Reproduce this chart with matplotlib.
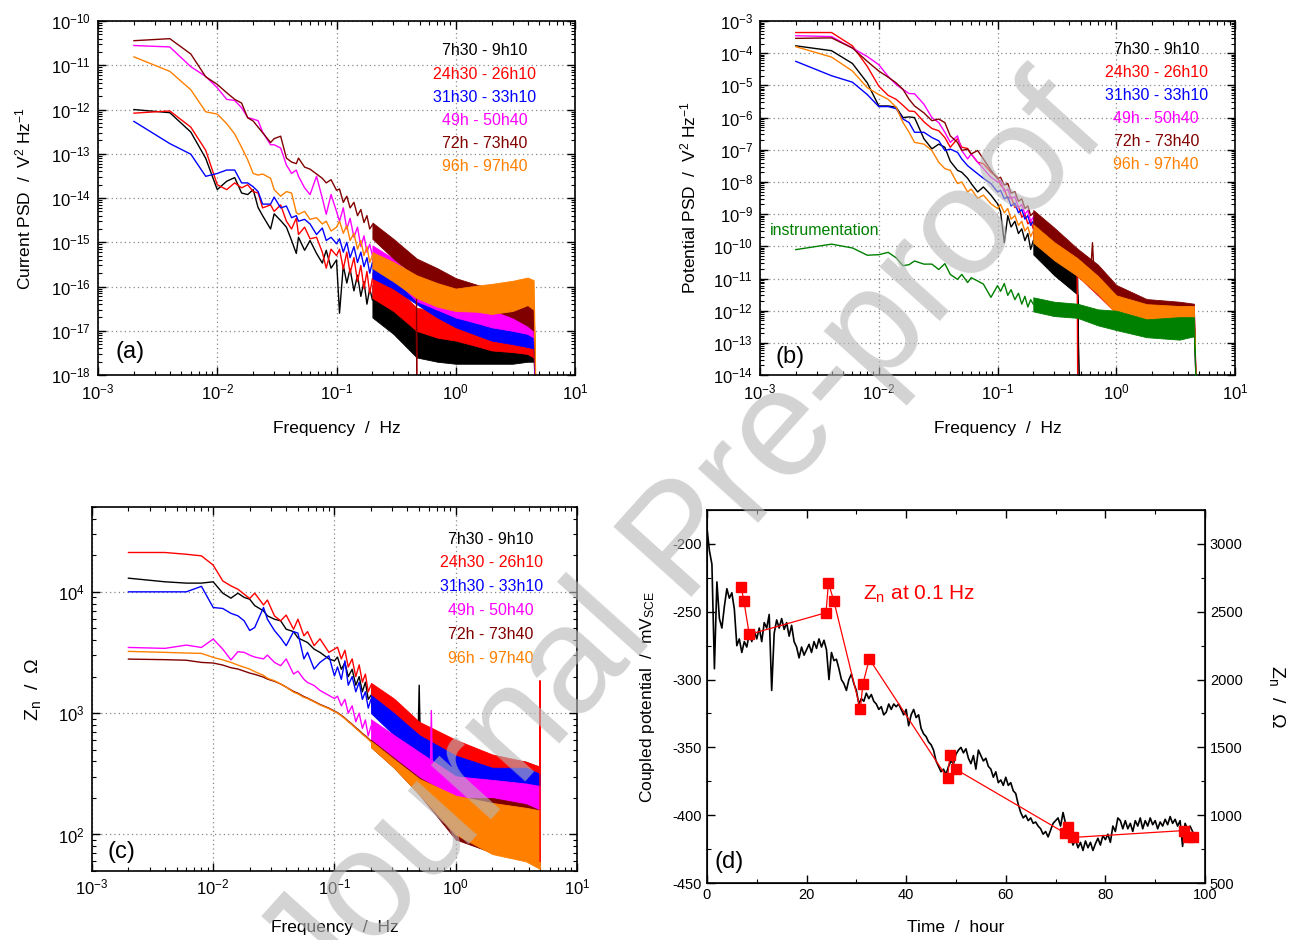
import numpy as np
import matplotlib
matplotlib.use('Agg')
import matplotlib.pyplot as plt
from matplotlib.ticker import LogLocator, NullFormatter, MultipleLocator

plt.rcParams['font.family'] = ['Liberation Sans', 'DejaVu Sans']
plt.rcParams['mathtext.default'] = 'regular'
plt.rcParams['axes.unicode_minus'] = False

LABELS = ['7h30 - 9h10', '24h30 - 26h10', '31h30 - 33h10', '49h - 50h40', '72h - 73h40', '96h - 97h40']
COLORS = ['#000000', '#ff0000', '#0000ff', '#ff00ff', '#800000', '#ff8000']
GREEN = '#008000'

# ---------------- panel (a): current PSD ----------------
F_A_LINE = [0.002, 0.004, 0.006, 0.008, 0.010, 0.012, 0.014, 0.016, 0.018, 0.020, 0.022, 0.024, 0.028,
            0.030, 0.034, 0.038, 0.042, 0.046, 0.048, 0.054, 0.060, 0.068, 0.076, 0.082, 0.090, 0.100,
            0.106, 0.114, 0.122, 0.130, 0.140, 0.150, 0.160, 0.170, 0.180, 0.190, 0.200]
A_LINE = [
    [1.0e-12, 8.5e-13, 3.1e-13, 7.9e-14, 1.55e-14, 2.4e-14, 2.9e-14, 1.3e-14, 1.2e-14, 1.55e-14, 6.1e-15, 4e-15, 2e-15,
     4.4e-15, 3.1e-15, 2.2e-15, 1.1e-15, 5.6e-16, 1.3e-15, 6.6e-16, 1.1e-15, 5.6e-16, 3.4e-16, 6.6e-16, 2.6e-16, 4e-16,
     2.5e-17, 3e-16, 1.2e-16, 2.5e-16, 8e-17, 1.8e-16, 6e-17, 1.3e-16, 4e-17, 9e-17, 5e-17],
    [8.3e-13, 9.3e-13, 4.0e-13, 1.2e-13, 2e-14, 1.55e-14, 2.2e-14, 1.7e-14, 2e-14, 1.4e-14, 1.3e-14, 6e-15, 7e-15,
     5e-15, 7e-15, 3e-15, 2e-15, 3.5e-15, 1.5e-15, 2.2e-15, 1.2e-15, 1.3e-15, 6e-16, 2.6e-16, 7e-16, 5e-16,
     7e-16, 2.5e-16, 6e-16, 2e-16, 4.5e-16, 1.3e-16, 3e-16, 9e-17, 2.2e-16, 7e-17, 1.5e-16],
    [5.4e-13, 1.7e-13, 9.8e-14, 3.1e-14, 3.6e-14, 4.3e-14, 4.3e-14, 2.2e-14, 2.2e-14, 1.8e-14, 1.4e-14, 7.3e-15, 7.3e-15,
     1.05e-14, 6e-15, 6.6e-15, 3.6e-15, 4e-15, 3e-15, 3.3e-15, 2.6e-15, 1.5e-15, 2.1e-15, 1.1e-15, 1.3e-15, 9.3e-16,
     1.2e-15, 6e-16, 1e-15, 4.5e-16, 8e-16, 3.5e-16, 6e-16, 2.8e-16, 4.5e-16, 2e-16, 3.5e-16],
    [2.8e-11, 2.6e-11, 9.3e-12, 5.6e-12, 3.1e-12, 1.7e-12, 1.6e-12, 1.1e-12, 6.6e-13, 6.1e-13, 5.6e-13, 3.1e-13, 1.6e-13,
     1.6e-13, 1.35e-13, 5.6e-14, 3.6e-14, 4.3e-14, 3.1e-14, 1.7e-14, 1.2e-14, 3.1e-14, 1.0e-14, 4.3e-15, 1.2e-14, 5e-15,
     3e-15, 6e-15, 2e-15, 3.5e-15, 1.3e-15, 2.2e-15, 8e-16, 1.4e-15, 6e-16, 9e-16, 5e-16],
    [3.6e-11, 4.0e-11, 1.8e-11, 5.5e-12, 3.7e-12, 2.4e-12, 1.7e-12, 1.4e-12, 6.5e-13, 5.5e-13, 4e-13, 3.0e-13, 1.8e-13,
     2.2e-13, 2.5e-13, 8e-14, 6.5e-14, 6e-14, 8e-14, 5e-14, 4.5e-14, 3.5e-14, 2.8e-14, 2.2e-14, 2.6e-14, 1.5e-14,
     1.6e-14, 8e-15, 1.1e-14, 6e-15, 8e-15, 4e-15, 5.5e-15, 2.8e-15, 4e-15, 2e-15, 2.5e-15],
    [1.55e-11, 7.3e-12, 2.8e-12, 8.9e-13, 7.9e-13, 4.8e-13, 2.8e-13, 1.4e-13, 7.3e-14, 3.6e-14, 3.3e-14, 3.5e-14, 2.8e-14,
     1.55e-14, 1.1e-14, 1.4e-14, 1.3e-14, 4.7e-15, 4.3e-15, 5e-15, 3.3e-15, 3.6e-15, 2.6e-15, 3e-15, 1.8e-15, 2.2e-15,
     3e-15, 1.6e-15, 2.4e-15, 1.1e-15, 1.6e-15, 7e-16, 1.1e-15, 5e-16, 8e-16, 3.5e-16, 5e-16],
]
F_A_BAND = [0.2, 0.3, 0.47, 0.7, 1.0, 1.5, 2.0, 3.0, 4.0, 4.5, 4.8]
A_LO = [
    [2e-17, 8.5e-18, 2.5e-18, 2e-18, 1.8e-18, 1.8e-18, 1.8e-18, 1.8e-18, 2e-18, 2e-18, 1e-20],
    [5.5e-17, 2.8e-17, 1e-17, 7e-18, 6e-18, 4.5e-18, 3.6e-18, 3.3e-18, 3e-18, 2.5e-18, 1e-20],
    [1.55e-16, 9e-17, 4e-17, 2e-17, 1.2e-17, 8e-18, 6e-18, 5e-18, 4.3e-18, 4e-18, 1e-20],
    [3.6e-16, 1.55e-16, 4.7e-17, 3e-17, 2e-17, 1.5e-17, 1.2e-17, 1e-17, 8.5e-18, 7e-18, 1e-20],
    [1.2e-15, 4.3e-16, 1.6e-16, 9e-17, 5.5e-17, 3.5e-17, 3e-17, 2e-17, 1.3e-17, 1e-17, 1e-20],
    [2.6e-16, 1.3e-16, 5.5e-17, 3.5e-17, 2.8e-17, 2.7e-17, 2.4e-17, 2.8e-17, 3.8e-17, 3e-17, 1e-20],
]
A_HI = [
    [1.1e-16, 4.7e-17, 2e-17, 1e-17, 8.5e-18, 8e-18, 7e-18, 7e-18, 7e-18, 6e-18, 1e-20],
    [2.1e-16, 1.1e-16, 3.3e-17, 2.8e-17, 2.3e-17, 1.8e-17, 1.4e-17, 1.3e-17, 1.2e-17, 1e-17, 1e-20],
    [4.3e-16, 2.1e-16, 1.1e-16, 5e-17, 3.3e-17, 2.5e-17, 2e-17, 1.8e-17, 1.7e-17, 1.5e-17, 1e-20],
    [8.5e-16, 4.3e-16, 1.3e-16, 8e-17, 5.5e-17, 4e-17, 3.3e-17, 3.3e-17, 3.3e-17, 3e-17, 1e-20],
    [2.8e-15, 1.2e-15, 4.3e-16, 2.6e-16, 1.55e-16, 1.1e-16, 9e-17, 7e-17, 6e-17, 5e-17, 1e-20],
    [6e-16, 3.6e-16, 1.8e-16, 1.2e-16, 9e-17, 1.05e-16, 1.15e-16, 1.35e-16, 1.6e-16, 1.4e-16, 1e-20],
]
DROP_A_F = [0.468, 0.475]
DROP_A_RED = [3e-17, 1e-20]
DROP_A_BROWN = [1.2e-16, 1e-20]

# ---------------- panel (b): potential PSD ----------------
F_B_LINE = [0.002, 0.004, 0.006, 0.008, 0.010, 0.012, 0.014, 0.016, 0.018, 0.020, 0.024, 0.028, 0.032,
            0.036, 0.040, 0.046, 0.050, 0.056, 0.060, 0.068, 0.076, 0.088, 0.100,
            0.106, 0.114, 0.122, 0.130, 0.140, 0.150, 0.160, 0.170, 0.180, 0.190, 0.200]
B_LINE = [
    [1.7e-4, 1.2e-4, 4.8e-5, 1.2e-5, 2.3e-6, 2.3e-6, 2.1e-6, 1e-6, 1.05e-6, 1e-6, 2.2e-7, 1.07e-7, 1.5e-7,
     1.2e-7, 4.4e-8, 2.3e-8, 2e-8, 1.3e-8, 8.9e-9, 4.9e-9, 7e-9, 3.9e-9, 2.1e-9,
     1.2e-9, 1.3e-10, 9e-10, 4e-10, 6e-10, 2.5e-10, 3.5e-10, 1.5e-10, 2.5e-10, 8e-11, 1.5e-10],
    [4.4e-4, 4.4e-4, 1.7e-4, 3.9e-5, 9.5e-6, 4.9e-6, 3.7e-6, 2.4e-6, 1.6e-6, 1.55e-6, 7.4e-7, 4.6e-7, 3.9e-7,
     2.4e-7, 1.2e-7, 2.2e-7, 1.2e-7, 1.1e-7, 7.4e-8, 4.1e-8, 3.7e-8, 2e-8, 1.4e-8,
     8e-9, 6e-9, 3e-9, 3.5e-9, 1.6e-9, 1.8e-9, 8e-10, 1e-9, 5e-10, 6e-10, 3.5e-10],
    [5.6e-5, 2.0e-5, 1.26e-5, 5.2e-6, 2.2e-6, 2.2e-6, 1.9e-6, 9e-7, 7e-7, 3.5e-7, 3.5e-7, 2.4e-7, 1.9e-7,
     9.5e-8, 1.05e-7, 8.3e-8, 5.2e-8, 3.2e-8, 2.6e-8, 1.8e-8, 1.3e-8, 8.9e-9, 4.9e-9,
     5.5e-9, 3e-9, 3.5e-9, 1.8e-9, 2.2e-9, 1.1e-9, 1.4e-9, 7e-10, 9e-10, 4.5e-10, 6e-10],
    [3.5e-4, 3.3e-4, 1.45e-4, 7.9e-5, 4.4e-5, 1.9e-5, 1.07e-5, 7.5e-6, 5.6e-6, 5.5e-6, 2.6e-6, 1.0e-6, 7e-7,
     3.5e-7, 1.7e-7, 2.7e-7, 9.5e-8, 5.2e-8, 7.4e-8, 4.1e-8, 2.6e-8, 1.4e-8, 1e-8,
     1.1e-8, 5e-9, 6e-9, 3e-9, 3.5e-9, 1.6e-9, 2e-9, 1e-9, 1.3e-9, 6e-10, 8e-10],
    [2.9e-4, 3.0e-4, 1.45e-4, 5.6e-5, 2.8e-5, 1.8e-5, 1.2e-5, 7.5e-6, 3.7e-6, 2.3e-6, 1.4e-6, 8e-7, 9e-7,
     7e-7, 2.7e-7, 1.7e-7, 9.5e-8, 1.05e-7, 7.4e-8, 9.5e-8, 5.2e-8, 2.3e-8, 1.26e-8,
     1.4e-8, 8e-9, 9e-9, 4.5e-9, 5e-9, 2.5e-9, 3e-9, 1.5e-9, 1.8e-9, 9e-10, 1.1e-9],
    [1.6e-4, 7.6e-5, 2.8e-5, 8.5e-6, 5.2e-6, 3.7e-6, 2.1e-6, 7e-7, 3.5e-7, 1.7e-7, 1.5e-7, 9.5e-8, 4.1e-8,
     2.6e-8, 2.3e-8, 8.9e-9, 1e-8, 4.9e-9, 6e-9, 3.1e-9, 3.9e-9, 2.1e-9, 1.5e-9,
     2e-9, 1.1e-9, 1.5e-9, 7e-10, 9e-10, 4.5e-10, 6e-10, 3e-10, 4e-10, 2e-10, 3e-10],
]
B_INSTR_LINE = [7.9e-11, 1.17e-10, 8.9e-11, 5.3e-11, 5.5e-11, 6.5e-11, 4.4e-11, 2.5e-11, 2.7e-11, 3.5e-11, 2.8e-11,
                2.8e-11, 1.9e-11, 2.9e-11, 1.34e-11, 9.4e-12, 1.34e-11, 7.5e-12, 1.06e-11, 8.4e-12, 6.7e-12, 2.6e-12,
                6e-12, 4e-12, 7e-12, 3e-12, 4.5e-12, 2.2e-12, 3.5e-12, 1.6e-12, 2.8e-12, 1.3e-12, 2.2e-12, 1.6e-12]

F_B_BAND = [0.2, 0.3, 0.47, 0.7, 1.0, 1.8, 3.4, 4.5, 4.8]
F_B_BAND_BLACK = [0.2, 0.3, 0.47, 0.49]
B_LO = [
    [5.6e-11, 1.26e-11, 3.2e-12, 1e-16],
    [1.9e-10, 5.2e-11, 1.2e-11, 3e-12, 8.3e-13, 2.8e-13, 1.6e-13, 1.6e-13, 1e-16],
    [2.3e-10, 5.9e-11, 1.3e-11, 3.3e-12, 1e-12, 3.5e-13, 2e-13, 2e-13, 1e-16],
    [3e-10, 8.3e-11, 1.9e-11, 5.2e-12, 1.8e-12, 7.6e-13, 6e-13, 5.4e-13, 1e-16],
    [3.7e-10, 1.05e-10, 2.3e-11, 7.4e-12, 2e-12, 8.5e-13, 6.8e-13, 6e-13, 1e-16],
    [1.3e-10, 3.7e-11, 1.2e-11, 3.3e-12, 8.3e-13, 5e-13, 4.5e-13, 4.5e-13, 1e-16],
]
B_HI = [
    [2.2e-10, 5e-11, 1.26e-11, 1e-16],
    [6.8e-10, 1.9e-10, 4.3e-11, 1.07e-11, 3e-12, 1.1e-12, 7.9e-13, 7.9e-13, 1e-16],
    [8.5e-10, 2.1e-10, 4.8e-11, 1.2e-11, 3.2e-12, 1.1e-12, 7.9e-13, 7.9e-13, 1e-16],
    [1.07e-9, 3e-10, 6.8e-11, 1.9e-11, 5.6e-12, 2.1e-12, 1.65e-12, 1.5e-12, 1e-16],
    [1.35e-9, 3.8e-10, 8.5e-11, 2.7e-11, 6.3e-12, 2.3e-12, 1.9e-12, 1.65e-12, 1e-16],
    [4.8e-10, 1.35e-10, 4.3e-11, 1.2e-11, 3e-12, 1.6e-12, 1.4e-12, 1.4e-12, 1e-16],
]
B_INSTR_LO = [9.5e-13, 6.8e-13, 6e-13, 3.5e-13, 2.5e-13, 1.5e-13, 1.26e-13, 1.6e-13, 1e-16]
B_INSTR_HI = [2.6e-12, 1.9e-12, 1.65e-12, 1.1e-12, 1e-12, 5.4e-13, 6.3e-13, 6.3e-13, 1e-16]
SPIKE_B_BROWN_F = [0.615, 0.63, 0.645]
SPIKE_B_BROWN = [3e-11, 1.3e-10, 2.5e-11]
DROP_B_F = [0.468, 0.476]
DROP_B_RED = [2e-11, 1e-16]

# ---------------- panel (c): noise impedance ----------------
F_C_LINE = [0.002, 0.004, 0.006, 0.008, 0.010, 0.012, 0.014, 0.016, 0.018, 0.020, 0.022, 0.026, 0.028,
            0.032, 0.036, 0.040, 0.046, 0.050, 0.056, 0.060, 0.068, 0.076, 0.090, 0.100,
            0.106, 0.114, 0.122, 0.130, 0.140, 0.150, 0.160, 0.170, 0.180, 0.190, 0.200]
C_LINE = [
    [12960, 12100, 11800, 11800, 12100, 9750, 8870, 9750, 9000, 8700, 7700, 6970, 6340,
     5950, 5770, 4920, 4700, 4170, 3950, 3820, 3370, 3170, 2800, 2700,
     2900, 2300, 2600, 2000, 2300, 1700, 2000, 1500, 1800, 1300, 1400],
    [21100, 21100, 20400, 19800, 16600, 12300, 11200, 10500, 9570, 8810, 9750, 7800, 8560,
     6340, 5770, 6430, 4920, 5950, 4340, 4700, 3600, 4100, 3170, 3370,
     3500, 2800, 3300, 2400, 2800, 2000, 2500, 1800, 2100, 1500, 1700],
    [10000, 10000, 10000, 11100, 7430, 7290, 6650, 6340, 5770, 4800, 5080, 7430, 5950,
     4800, 4170, 3600, 4700, 4570, 2800, 3170, 2310, 2620, 2970, 2030,
     2400, 1900, 2700, 1700, 2000, 1500, 1800, 1300, 1500, 1100, 1300],
    [3480, 3420, 3640, 3480, 4080, 3370, 2750, 3210, 3170, 3010, 2900, 2800, 3010,
     2620, 2460, 2800, 2100, 2220, 1900, 1790, 1690, 1540, 1400, 1320,
     1380, 1150, 1300, 1000, 1150, 850, 1000, 750, 880, 650, 780],
    [2790, 2760, 2730, 2620, 2590, 2490, 2370, 2310, 2220, 2140, 2090, 1980, 1910,
     1830, 1740, 1640, 1510, 1460, 1370, 1330, 1250, 1180, 1100, 1040,
     1010, 960, 910, 860, 810, 760, 720, 680, 650, 620, 590],
    [3230, 3170, 3130, 3110, 2880, 2750, 2620, 2490, 2390, 2310, 2200, 2050, 1940,
     1850, 1740, 1640, 1490, 1440, 1350, 1320, 1240, 1170, 1090, 1030,
     1000, 950, 900, 850, 800, 750, 710, 670, 640, 610, 580],
]
F_C_BAND = [0.2, 0.31, 0.5, 1.0, 2.0, 3.8, 4.95]
C_LO = [
    [1120, 760, 500, 316, 263, 240, 240],
    [1200, 794, 525, 331, 263, 240, 240],
    [1000, 660, 417, 251, 214, 200, 200],
    [603, 417, 282, 190, 166, 158, 158],
    [525, 355, 214, 91, 71, 63, 56],
    [525, 355, 214, 100, 69, 60, 52],
]
C_HI = [
    [1580, 1200, 794, 562, 437, 398, 355],
    [1780, 1320, 850, 603, 457, 398, 363],
    [1410, 1000, 660, 447, 355, 355, 316],
    [891, 660, 479, 302, 282, 263, 251],
    [603, 427, 295, 200, 200, 178, 158],
    [589, 417, 288, 209, 182, 166, 158],
]
SPIKE_C_BLACK_F = [0.49, 0.50, 0.51]
SPIKE_C_BLACK = [650, 1700, 650]
SPIKE_C_MAG_F = [0.62, 0.63, 0.64]
SPIKE_C_MAG = [380, 1050, 380]
SPIKE_C_RED_F = [4.93, 4.95, 4.97]
SPIKE_C_RED = [320, 1850, 60]

# ---------------- panel (d): coupled potential and Zn(0.1 Hz) ----------------
T_D = np.arange(0, 98.0, 0.5)
E_D = [-188, -205, -215, -292, -228, -255, -262, -246, -233, -240, -236, -248, -275, -270, -280, -272,
       -276, -266, -272, -264, -270, -262, -272, -258, -262, -252, -308, -266, -256, -262, -255, -263,
       -258, -268, -260, -272, -276, -284, -276, -282, -278, -274, -280, -272, -277, -270, -276, -271,
       -278, -300, -280, -286, -285, -292, -300, -303, -308, -300, -296, -303, -308, -318, -314, -316,
       -310, -314, -311, -316, -318, -322, -320, -326, -324, -318, -322, -318, -320, -318, -322, -326,
       -322, -334, -326, -322, -328, -326, -336, -340, -342, -346, -348, -352, -360, -364, -368, -366,
       -370, -364, -360, -362, -355, -352, -350, -354, -351, -358, -362, -356, -366, -352, -356, -360,
       -358, -364, -366, -372, -368, -376, -374, -378, -372, -378, -376, -382, -384, -392, -398, -402,
       -400, -404, -402, -406, -405, -408, -410, -414, -412, -416, -411, -406, -404, -402, -408, -398,
       -406, -410, -416, -422, -418, -424, -420, -426, -419, -424, -420, -426, -421, -417, -422, -415,
       -418, -414, -420, -408, -412, -402, -404, -410, -404, -410, -406, -412, -404, -408, -402, -410,
       -404, -408, -402, -407, -404, -410, -405, -408, -403, -407, -401, -406, -403, -408, -404, -423,
       -406, -410, -408, -412]
T_ZN = [6.9, 7.4, 8.5, 23.9, 24.4, 25.5, 30.8, 31.3, 32.6, 48.3, 48.8, 50.0, 71.9, 72.4, 73.4, 95.8, 96.5, 97.6]
ZN = [2679, 2583, 2333, 2493, 2713, 2576, 1782, 1966, 2152, 1272, 1444, 1338, 868, 912, 836, 887, 843, 838]

# ---------------- figure ----------------
fig = plt.figure(figsize=(12.95, 9.40), dpi=100)
axa = fig.add_axes([0.0757, 0.601, 0.3683, 0.3766])
axb = fig.add_axes([0.5869, 0.601, 0.3668, 0.3766])
axc = fig.add_axes([0.0710, 0.0734, 0.3745, 0.3872])
axd = fig.add_axes([0.5459, 0.0606, 0.3846, 0.3968])

TICK_FS = 12
LAB_FS = 12.5
LEG_FS = 11.5


def style_log(ax, ylim):
    ax.set_xscale('log')
    ax.set_yscale('log')
    ax.set_xlim(1e-3, 10)
    ax.set_ylim(*ylim)
    for axis in (ax.xaxis, ax.yaxis):
        axis.set_major_locator(LogLocator(base=10, numticks=30))
        axis.set_minor_locator(LogLocator(base=10, subs=np.arange(2, 10), numticks=30))
        axis.set_minor_formatter(NullFormatter())
    ax.tick_params(which='both', direction='in', top=True, right=True)
    ax.tick_params(which='major', length=6, width=1.0, labelsize=TICK_FS, pad=5)
    ax.tick_params(which='minor', length=3, width=0.8)
    ax.grid(True, which='major', linestyle=(0, (1, 2.5)), color='#888888', linewidth=0.9)
    for s in ax.spines.values():
        s.set_linewidth(1.2)


def draw_spectra(ax, f_line, lines, f_band, lows, highs, colors):
    for i, c in enumerate(colors):
        z = 2 + i * 0.1
        ax.plot(f_line, lines[i], color=c, lw=1.0, zorder=z)
        fb = f_band[i] if isinstance(f_band[0], list) else f_band
        ax.fill_between(fb, lows[i], highs[i], color=c, lw=0.6, zorder=z)


def legend_texts(ax, x, y0, dy):
    for i, (lab, c) in enumerate(zip(LABELS, COLORS)):
        ax.text(x, y0 - i * dy, lab, transform=ax.transAxes, ha='center', va='center',
                color=c, fontsize=LEG_FS, zorder=10)


# (a)
style_log(axa, (1e-18, 1e-10))
draw_spectra(axa, F_A_LINE, A_LINE, F_A_BAND, A_LO, A_HI, COLORS)
axa.plot(DROP_A_F, DROP_A_RED, color=COLORS[1], lw=1.0, zorder=2.15)
axa.plot(DROP_A_F, DROP_A_BROWN, color=COLORS[4], lw=1.0, zorder=2.45)
legend_texts(axa, 0.811, 0.916, 0.0656)
axa.text(0.067, 0.064, '(a)', transform=axa.transAxes, ha='center', va='center', fontsize=17, zorder=10)
axa.set_xlabel('Frequency  /  Hz', fontsize=LAB_FS)
axa.set_ylabel('Current PSD  /  V$^2$ Hz$^{-1}$', fontsize=LAB_FS)
axa.xaxis.set_label_coords(0.5, -0.13)
axa.yaxis.set_label_coords(-0.135, 0.5)

# (b)
style_log(axb, (1e-14, 1e-3))
bands_b = [F_B_BAND_BLACK] + [F_B_BAND] * 5
draw_spectra(axb, F_B_LINE, B_LINE, bands_b, B_LO, B_HI, COLORS)
axb.plot(DROP_B_F, DROP_B_RED, color=COLORS[1], lw=1.0, zorder=2.15)
axb.plot(SPIKE_B_BROWN_F, SPIKE_B_BROWN, color=COLORS[4], lw=1.0, zorder=2.45)
axb.plot(F_B_LINE, B_INSTR_LINE, color=GREEN, lw=1.0, zorder=3)
axb.fill_between(F_B_BAND, B_INSTR_LO, B_INSTR_HI, color=GREEN, lw=0.6, zorder=3)
legend_texts(axb, 0.834, 0.919, 0.065)
axb.text(0.021, 0.409, 'instrumentation', transform=axb.transAxes, ha='left', va='center',
         color=GREEN, fontsize=LEG_FS, zorder=10)
axb.text(0.063, 0.05, '(b)', transform=axb.transAxes, ha='center', va='center', fontsize=17, zorder=10)
axb.set_xlabel('Frequency  /  Hz', fontsize=LAB_FS)
axb.set_ylabel('Potential PSD  /  V$^2$ Hz$^{-1}$', fontsize=LAB_FS)
axb.xaxis.set_label_coords(0.5, -0.13)
axb.yaxis.set_label_coords(-0.13, 0.5)

# (c)
style_log(axc, (50, 50000))
draw_spectra(axc, F_C_LINE, C_LINE, F_C_BAND, C_LO, C_HI, COLORS)
axc.plot(SPIKE_C_BLACK_F, SPIKE_C_BLACK, color=COLORS[0], lw=1.0, zorder=2)
axc.plot(SPIKE_C_MAG_F, SPIKE_C_MAG, color=COLORS[3], lw=1.0, zorder=2.35)
axc.plot(SPIKE_C_RED_F, SPIKE_C_RED, color=COLORS[1], lw=1.0, zorder=2.6)
legend_texts(axc, 0.823, 0.912, 0.0654)
axc.text(0.06, 0.052, '(c)', transform=axc.transAxes, ha='center', va='center', fontsize=17, zorder=10)
axc.set_xlabel('Frequency  /  Hz', fontsize=LAB_FS)
axc.set_ylabel('Z$_n$  /  \u03a9', fontsize=14)
axc.xaxis.set_label_coords(0.5, -0.135)
axc.yaxis.set_label_coords(-0.10, 0.5)

# (d)
axd.plot(T_D, E_D, color='black', lw=1.2, zorder=2)
axd.set_xlim(0, 100)
axd.set_ylim(-450, -175)
axd.xaxis.set_major_locator(MultipleLocator(20))
axd.xaxis.set_minor_locator(MultipleLocator(10))
axd.yaxis.set_major_locator(MultipleLocator(50))
axd.yaxis.set_minor_locator(MultipleLocator(25))
axd.tick_params(which='both', direction='in', top=True, right=False)
axd.tick_params(which='major', length=6, width=1.0, labelsize=10.5)
axd.tick_params(which='minor', length=3, width=0.8)
axd.set_xlabel('Time  /  hour', fontsize=LAB_FS)
axd.set_ylabel('Coupled potential  /  mV$_{SCE}$', fontsize=LAB_FS)
axd.xaxis.set_label_coords(0.5, -0.10)
axd.yaxis.set_label_coords(-0.10, 0.5)
for s in axd.spines.values():
    s.set_linewidth(1.2)
axr = axd.twinx()
axr.plot(T_ZN, ZN, color='#ff0000', lw=0.9, marker='s', ms=6.5, mfc='#ff0000', mec='#ff0000', zorder=3)
axr.set_ylim(500, 3250)
axr.yaxis.set_major_locator(MultipleLocator(500))
axr.yaxis.set_minor_locator(MultipleLocator(250))
axr.tick_params(which='both', direction='in')
axr.tick_params(which='major', length=6, width=1.0, labelsize=10.5)
axr.tick_params(which='minor', length=3, width=0.8)
axr.set_ylabel('Z$_n$  /  \u03a9', fontsize=14, rotation=270)
axr.yaxis.set_label_coords(1.165, 0.5)
axd.text(0.313, 0.775, 'Z$_n$ at 0.1 Hz', transform=axd.transAxes, ha='left', va='center',
         color='#ff0000', fontsize=15, zorder=10)
axd.text(0.044, 0.056, '(d)', transform=axd.transAxes, ha='center', va='center', fontsize=17, zorder=10)

# watermark
fig.text(0.53, 0.42, 'Journal Pre-proof', rotation=48, fontsize=110, color='#b8b8b8', alpha=0.62,
         ha='center', va='center', zorder=20)

fig.savefig('out.png', dpi=100)
